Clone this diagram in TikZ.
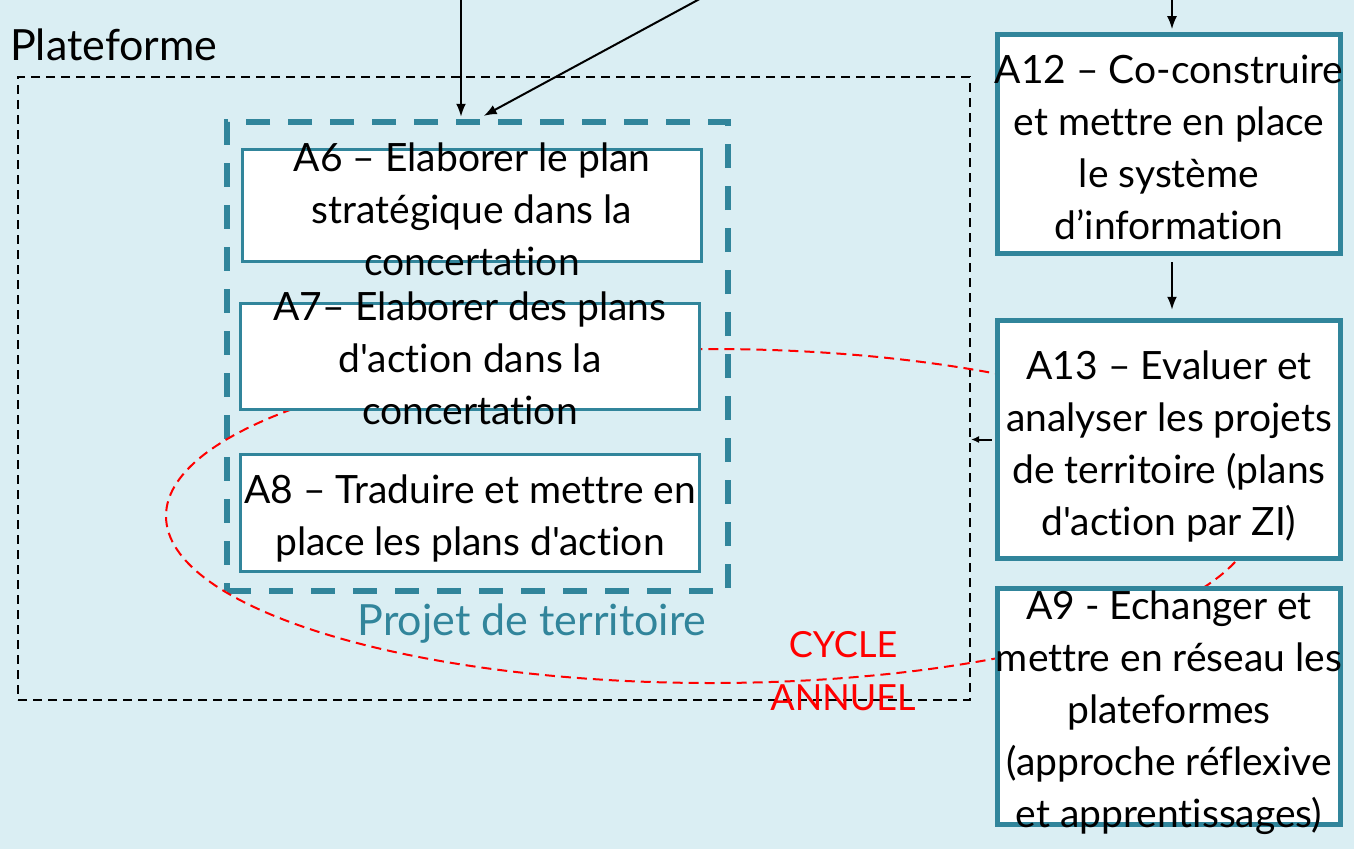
\documentclass[tikz,border=0pt]{standalone}
\usepackage{fontspec}
\setmainfont{Lato}[Ligatures={TeXOff,NoCommon}]
\usetikzlibrary{arrows.meta}
\definecolor{bgblue}{RGB}{218,238,243}
\definecolor{teal5}{RGB}{49,133,155}
\definecolor{cyclered}{RGB}{255,0,0}
\begin{document}
\begin{tikzpicture}[x=1pt,y=-1pt,
  boxthin/.style={draw=teal5, line width=3.5pt, fill=white, inner sep=0pt},
  boxthick/.style={draw=teal5, line width=5.5pt, fill=white, inner sep=0pt},
  boxtxt/.style={align=center, font=\fontsize{39}{52}\selectfont, inner sep=0pt, text=black},
  arr/.style={-{Latex[length=13pt,width=10pt]}, line width=2pt, black},
  arrsm/.style={-{Latex[length=8pt,width=7pt]}, line width=2pt, black},
  platbox/.style={draw=black, line width=2pt, dash pattern=on 9pt off 6pt, inner sep=0pt},
  projbox/.style={draw=teal5, line width=5.5pt, dash pattern=on 24pt off 18pt, inner sep=0pt},
  cycle/.style={draw=cyclered, line width=2pt, dash pattern=on 10pt off 6pt},
  lbl/.style={font=\fontsize{43}{52}\selectfont, inner sep=0pt}]
\useasboundingbox (0,0) rectangle (1354,851);
\fill[bgblue] (0,0) rectangle (1354,849);
\fill[white] (0,849) rectangle (1354,851);

% containers
\node[platbox, minimum width=952, minimum height=623] (plat) at (494,388.5) {};
\node[projbox, minimum width=501, minimum height=469] (proj) at (477.5,356.5) {};

% annual cycle
\draw[cycle] (711,516) ellipse [x radius=545pt, y radius=167pt];

% activity boxes
\node[boxthin, minimum width=459, minimum height=112] (a6) at (472,205.5) {};
\node[boxthin, minimum width=459, minimum height=106] (a7) at (470,356.5) {};
\node[boxthin, minimum width=459, minimum height=117] (a8) at (470,513) {};
\node[boxthick, minimum width=343, minimum height=219] (a12) at (1169,144) {};
\node[boxthick, minimum width=343, minimum height=238] (a13) at (1169,439.5) {};
\node[boxthick, minimum width=343, minimum height=236] (a9) at (1169,706.5) {};

\node[boxtxt] (a6t) at ([yshift=-4pt]a6.center) {A6 – Elaborer le plan\\stratégique dans la\\concertation};
\node[boxtxt] (a7t) at ([yshift=-2pt]a7.center) {A7– Elaborer des plans\\d'action dans la\\concertation};
\node[boxtxt] (a8t) at ([yshift=-5pt]a8.center) {A8 – Traduire et mettre en\\place les plans d'action};
\node[boxtxt] (a12t) at ([yshift=-3pt]a12.center) {A12 – Co-construire\\et mettre en place\\le système\\d’information};
\node[boxtxt] (a13t) at ([yshift=-7pt]a13.center) {A13 – Evaluer et\\analyser les projets\\de territoire (plans\\d'action par ZI)};
\node[boxtxt] (a9t) at ([yshift=-6pt]a9.center) {A9 - Echanger et\\mettre en réseau les\\plateformes\\(approche réflexive\\et apprentissages)};

% labels
\node[lbl, anchor=base west] (platl) at (10,60) {Plateforme};
\node[lbl, anchor=base, text=teal5] (projl) at (532,635) {Projet de territoire};
\node[lbl, anchor=base, text=cyclered, font=\fontsize{36}{52}\selectfont] (cyc) at (843,657) {CYCLE};
\node[lbl, anchor=base, text=cyclered, font=\fontsize{36}{52}\selectfont] (ann) at (843,710) {ANNUEL};

% arrows
\coordinate (t1) at (461,-5);
\coordinate (t2) at (707,-5);
\coordinate (t3) at (1172,-5);
\draw[arr, shorten >=2.5pt] (t1) -- (t1 |- proj.north);
\draw[arr, shorten >=7pt] (t2) -- (proj.north);
\draw[arr, shorten >=2.5pt] (t3) -- (t3 |- a12.north);
\draw[arr, shorten <=6pt, shorten >=8pt] (t3 |- a12.south) -- (t3 |- a13.north);
\draw[arrsm, shorten <=3pt] (a13.west) -- (a13.west -| plat.east);
\end{tikzpicture}
\end{document}
